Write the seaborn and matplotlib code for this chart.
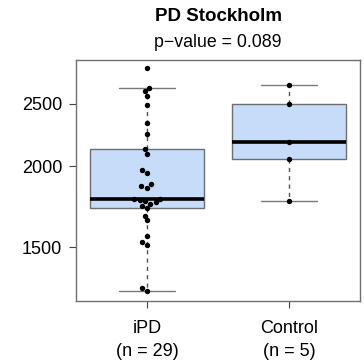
import matplotlib
matplotlib.use('Agg')
import matplotlib.pyplot as plt
import pandas as pd
import seaborn as sns

# groups and values (log y axis)
groups = ['iPD', 'Control']
group_labels = ['iPD\n(n = 29)', 'Control\n(n = 5)']
ipd_values = [1283, 1297, 1514, 1527, 1563, 1650, 1679, 1725,
              1740, 1752, 1760, 1768, 1772, 1778, 1781,
              1853, 1862, 1878, 1954, 1972, 2087, 2124,
              2247, 2336, 2491, 2566, 2612, 2645, 2838]
control_values = [1768, 2050, 2179, 2497, 2668]
y_ticks = [1500, 2000, 2500]
title = 'PD Stockholm'
subtitle = 'p\u2212value = 0.089'

df = pd.DataFrame({
    'group': ['iPD'] * len(ipd_values) + ['Control'] * len(control_values),
    'value': ipd_values + control_values,
})

sns.set_style('white')
plt.rcParams['font.family'] = ['Liberation Sans', 'DejaVu Sans']
plt.rcParams['text.color'] = 'black'
plt.rcParams['xtick.labelcolor'] = 'black'
plt.rcParams['ytick.labelcolor'] = 'black'

fig = plt.figure(figsize=(3.64, 3.63), dpi=100)
ax = fig.add_axes([0.2088, 0.1708, 0.7802, 0.6639])

# boxes first on a linear axis so the whiskers use plain 1.5*IQR
sns.boxplot(data=df, x='group', y='value', order=groups, ax=ax, width=0.8,
            color='#c6dcf8', saturation=1, linecolor='#6e6e6e', linewidth=1,
            showfliers=False,
            whiskerprops=dict(linestyle=(0, (3, 3)), color='#555555'),
            capprops=dict(color='#7a7a7a'),
            medianprops=dict(color='black', linewidth=2.6))

ax.set_yscale('log')
ax.set_ylim(1239, 2920)
ax.set_xlim(-0.58, 1.58)

sns.swarmplot(data=df, x='group', y='value', order=groups, ax=ax,
              color='black', size=3.9, linewidth=0)

ax.set_yticks(y_ticks, labels=[str(t) for t in y_ticks])
ax.set_xticks([0, 1], labels=group_labels)
for lab in ax.get_xticklabels():
    lab.set_linespacing(1.4)
ax.minorticks_off()
ax.set_xlabel('')
ax.set_ylabel('')
ax.tick_params(bottom=True, left=True, direction='out', length=5, width=0.8,
               color='#444444', labelsize=13)
ax.tick_params(axis='x', pad=9)
ax.tick_params(axis='y', pad=5)
for s in ax.spines.values():
    s.set_visible(True)
    s.set_color('#707070')
    s.set_linewidth(1)

fig.text(0.599, 0.942, title, ha='center', va='baseline',
         fontsize=13.5, fontweight='bold')
fig.text(0.599, 0.871, subtitle, ha='center', va='baseline', fontsize=12.8)

fig.savefig('out.png', dpi=100)
